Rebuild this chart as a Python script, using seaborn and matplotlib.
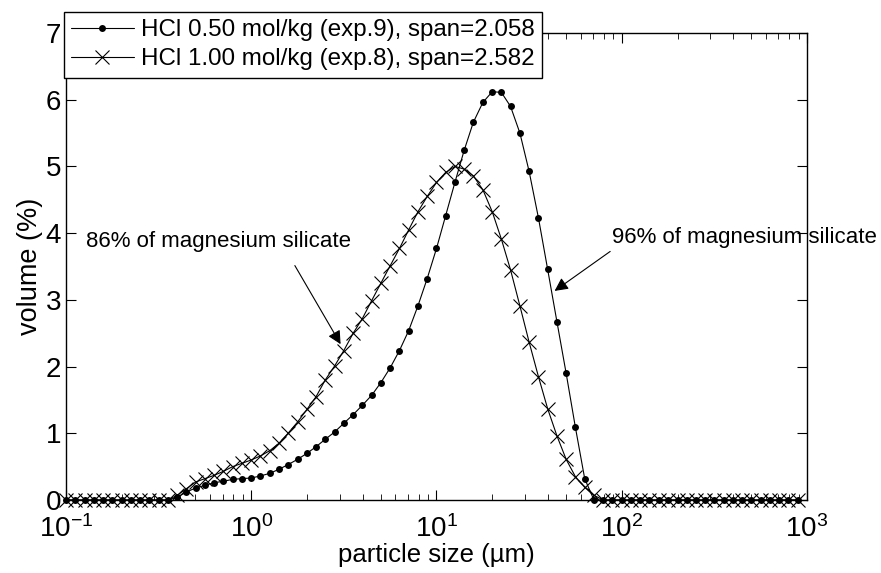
"""
Particle size distribution of the leached residue for two HCl concentrations
"""
import matplotlib
matplotlib.use('Agg')
import numpy as np
import pandas as pd
import seaborn as sns
from matplotlib import pyplot as plt
from matplotlib.ticker import LogLocator, FixedLocator

# particle size classes (um), 20 per decade
sizes = [
    0.100, 0.112, 0.126, 0.141, 0.158, 0.178, 0.200, 0.224, 0.251, 0.282,
    0.316, 0.355, 0.398, 0.447, 0.501, 0.562, 0.631, 0.708, 0.794, 0.891,
    1.00, 1.12, 1.26, 1.41, 1.58, 1.78, 2.00, 2.24, 2.51, 2.82,
    3.16, 3.55, 3.98, 4.47, 5.01, 5.62, 6.31, 7.08, 7.94, 8.91,
    10.0, 11.2, 12.6, 14.1, 15.8, 17.8, 20.0, 22.4, 25.1, 28.2,
    31.6, 35.5, 39.8, 44.7, 50.1, 56.2, 63.1, 70.8, 79.4, 89.1,
    100, 112, 126, 141, 158, 178, 200, 224, 251, 282,
    316, 355, 398, 447, 501, 562, 631, 708, 794, 891,
]

# volume (%) for HCl 0.50 mol/kg (exp.9)
vol_exp9 = [
    0, 0, 0, 0, 0, 0, 0, 0, 0, 0,
    0, 0, 0.04, 0.12, 0.18, 0.22, 0.26, 0.28, 0.31, 0.32,
    0.33, 0.36, 0.40, 0.46, 0.53, 0.61, 0.70, 0.80, 0.91, 1.02,
    1.15, 1.28, 1.42, 1.57, 1.76, 1.98, 2.24, 2.54, 2.91, 3.32,
    3.77, 4.26, 4.77, 5.24, 5.66, 5.96, 6.12, 6.11, 5.90, 5.50,
    4.93, 4.23, 3.46, 2.67, 1.90, 1.09, 0.32, 0, 0, 0,
    0, 0, 0, 0, 0, 0, 0, 0, 0, 0,
    0, 0, 0, 0, 0, 0, 0, 0, 0, 0,
]

# volume (%) for HCl 1.00 mol/kg (exp.8)
vol_exp8 = [
    0, 0, 0, 0, 0, 0, 0, 0, 0, 0,
    0, 0, 0.07, 0.17, 0.27, 0.32, 0.37, 0.43, 0.50, 0.55,
    0.60, 0.66, 0.74, 0.85, 1.00, 1.17, 1.36, 1.55, 1.80, 2.01,
    2.24, 2.50, 2.72, 2.99, 3.25, 3.51, 3.77, 4.05, 4.32, 4.55,
    4.76, 4.91, 5.00, 4.96, 4.86, 4.65, 4.32, 3.91, 3.45, 2.91,
    2.37, 1.85, 1.37, 0.96, 0.61, 0.35, 0.19, 0.07, 0, 0,
    0, 0, 0, 0, 0, 0, 0, 0, 0, 0,
    0, 0, 0, 0, 0, 0, 0, 0, 0, 0,
]

labels = [
    'HCl 0.50 mol/kg (exp.9), span=2.058',
    'HCl 1.00 mol/kg (exp.8), span=2.582',
]
y_ticks = [0, 1, 2, 3, 4, 5, 6, 7]

df9 = pd.DataFrame({'size': sizes, 'volume': vol_exp9})
df8 = pd.DataFrame({'size': sizes, 'volume': vol_exp8})

sns.set_style('ticks')
plt.rcParams['font.family'] = ['Liberation Sans', 'DejaVu Sans']
plt.rcParams['mathtext.fontset'] = 'custom'
plt.rcParams['mathtext.rm'] = 'Liberation Sans'
plt.rcParams['mathtext.it'] = 'Liberation Sans'
plt.rcParams['text.color'] = 'black'
plt.rcParams['axes.labelcolor'] = 'black'

fig = plt.figure(figsize=(8.81, 5.73), dpi=100)
ax = fig.add_axes([0.0749, 0.1274, 0.8411, 0.8150])

sns.lineplot(data=df9, x='size', y='volume', ax=ax, color='black', lw=0.8,
             marker='o', markersize=5, markeredgewidth=0, label=labels[0],
             clip_on=False)
sns.lineplot(data=df8, x='size', y='volume', ax=ax, color='black', lw=0.8,
             marker='x', markersize=10, markeredgewidth=0.8,
             markeredgecolor='black', label=labels[1], clip_on=False)

ax.set_xscale('log')
ax.set_xlim(0.1, 1000)
ax.set_ylim(0, 7)
ax.yaxis.set_major_locator(FixedLocator(y_ticks))
ax.xaxis.set_major_locator(LogLocator(base=10, numticks=10))
ax.xaxis.set_minor_locator(LogLocator(base=10, subs=np.arange(2, 10), numticks=20))

for side in ['top', 'right', 'left', 'bottom']:
    ax.spines[side].set_visible(True)
    ax.spines[side].set_linewidth(1.0)
    ax.spines[side].set_color('black')
ax.tick_params(which='both', direction='in', top=True, right=True, colors='black',
               labelsize=20)
ax.tick_params(axis='x', which='major', pad=11)
ax.tick_params(which='major', length=7, width=0.8)
ax.tick_params(which='minor', length=4, width=0.6)

ax.set_xlabel('particle size (µm)', fontsize=18.5, labelpad=0)
ax.set_ylabel('volume (%)', fontsize=19.5, labelpad=2)

leg = ax.legend(loc='upper left', bbox_to_anchor=(-0.003, 1.045), borderaxespad=0,
                fontsize=17.4, frameon=True, fancybox=False, framealpha=1,
                edgecolor='black', handlelength=2.6, handletextpad=0.3,
                borderpad=0.3, labelspacing=0.3)
leg.get_frame().set_linewidth(1.0)
leg.set_zorder(5)

# annotations
ax.text(0.128, 3.87, '86% of magnesium silicate', fontsize=16, va='center', ha='left')
ax.annotate('', xy=(3.09, 2.30), xytext=(1.69, 3.55),
            arrowprops=dict(arrowstyle='-|>', color='black', lw=0.8, mutation_scale=20))
ax.text(89.1, 3.93, '96% of magnesium silicate', fontsize=16, va='center', ha='left',
        clip_on=False)
ax.annotate('', xy=(42.2, 3.11), xytext=(89.1, 3.75),
            arrowprops=dict(arrowstyle='-|>', color='black', lw=0.8, mutation_scale=20))

fig.savefig('out.png', dpi=100)
